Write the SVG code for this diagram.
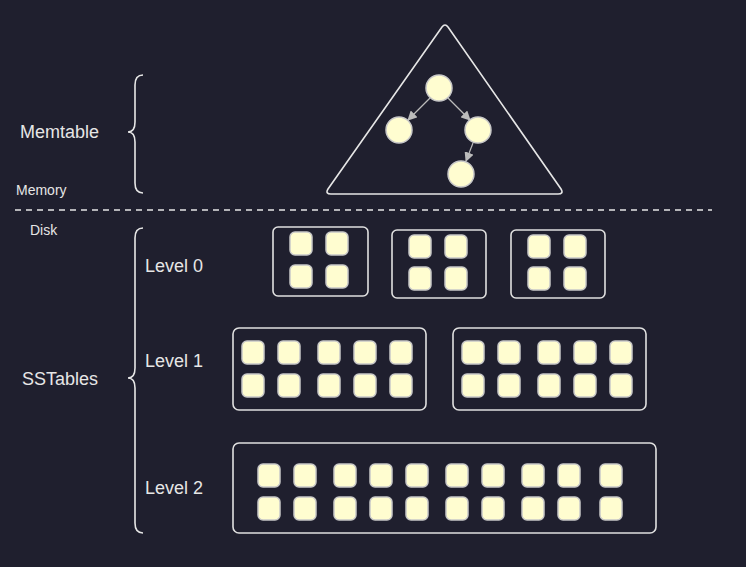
<svg xmlns="http://www.w3.org/2000/svg" width="746" height="567" viewBox="0 0 746 567">
<style>
.t{font-family:"Liberation Sans",Arial,sans-serif;fill:#e6e6e6}
.ln{fill:none;stroke:#e6e6e6;stroke-width:1.6}
.box{fill:none;stroke:#e0e0e0;stroke-width:1.6}
.sq{fill:#fffdd0;stroke:#c8c8c8;stroke-width:1.5}
.nd{fill:#fffdd0;stroke:#c8c8c8;stroke-width:1.5}
.ed{stroke:#bbbbbb;stroke-width:1.2;fill:none;marker-end:url(#ah)}
</style>
<defs>
<marker id="ah" viewBox="0 0 10 10" refX="9" refY="5" markerWidth="8" markerHeight="8" orient="auto"><path d="M0,0L10,5L0,10z" fill="#bbbbbb"/></marker>
<rect id="s" class="sq" width="22" height="23" rx="5"/>
</defs>
<rect width="746" height="567" fill="#1f1f2e"/>
<text class="t" x="20" y="138" font-size="18">Memtable</text>
<text class="t" x="16" y="195" font-size="14">Memory</text>
<text class="t" x="30" y="235" font-size="14">Disk</text>
<text class="t" x="22" y="385" font-size="18">SSTables</text>
<text class="t" x="145" y="272" font-size="18">Level 0</text>
<text class="t" x="145" y="367" font-size="18">Level 1</text>
<text class="t" x="145" y="494" font-size="18">Level 2</text>
<path class="ln" d="M143,75 Q135,75 135,85 L135,122 Q135,132 128,132 Q135,132 135,142 L135,183 Q135,193 143,193"/>
<path class="ln" d="M143,228 Q135,228 135,238 L135,368 Q135,378 128,378 Q135,378 135,388 L135,523 Q135,533 143,533"/>
<line x1="15" y1="210" x2="712" y2="210" stroke="#e6e6e6" stroke-width="1.6" stroke-dasharray="6,5"/>
<g id="memtable">
<path class="ln" d="M442,27 Q445,23 448,27 L561,189 Q564,194 558,194 L331,194 Q325,194 328,189 Z" stroke-width="2"/>
</g>
<g id="edges">
<line class="ed" x1="430" y1="98" x2="408" y2="120"/>
<line class="ed" x1="448" y1="98" x2="470" y2="120"/>
<line class="ed" x1="473" y1="143" x2="466" y2="161"/>
</g>
<g id="tree">
<circle class="nd" cx="439" cy="88" r="13"/>
<circle class="nd" cx="399" cy="130" r="13"/>
<circle class="nd" cx="478" cy="130" r="13"/>
<circle class="nd" cx="461" cy="174" r="13"/>
</g>
<g id="level0">
<rect class="box" x="273" y="227" width="95" height="69" rx="5"/>
<use href="#s" x="290" y="232"/><use href="#s" x="326" y="232"/><use href="#s" x="290" y="265"/><use href="#s" x="326" y="265"/>
<rect class="box" x="392" y="230" width="94" height="68" rx="5"/>
<use href="#s" x="409" y="235"/><use href="#s" x="445" y="235"/><use href="#s" x="409" y="267"/><use href="#s" x="445" y="267"/>
<rect class="box" x="511" y="230" width="94" height="68" rx="5"/>
<use href="#s" x="528" y="235"/><use href="#s" x="564" y="235"/><use href="#s" x="528" y="267"/><use href="#s" x="564" y="267"/>
</g>
<g id="level1">
<rect class="box" x="233" y="328" width="193" height="82" rx="6"/>
<use href="#s" x="242" y="341"/><use href="#s" x="278" y="341"/><use href="#s" x="318" y="341"/><use href="#s" x="354" y="341"/><use href="#s" x="390" y="341"/>
<use href="#s" x="242" y="374"/><use href="#s" x="278" y="374"/><use href="#s" x="318" y="374"/><use href="#s" x="354" y="374"/><use href="#s" x="390" y="374"/>
<rect class="box" x="453" y="328" width="193" height="82" rx="6"/>
<use href="#s" x="462" y="341"/><use href="#s" x="498" y="341"/><use href="#s" x="538" y="341"/><use href="#s" x="574" y="341"/><use href="#s" x="610" y="341"/>
<use href="#s" x="462" y="374"/><use href="#s" x="498" y="374"/><use href="#s" x="538" y="374"/><use href="#s" x="574" y="374"/><use href="#s" x="610" y="374"/>
</g>
<g id="level2">
<rect class="box" x="233" y="443" width="423" height="90" rx="6"/>
<use href="#s" x="258" y="464"/><use href="#s" x="294" y="464"/><use href="#s" x="334" y="464"/><use href="#s" x="370" y="464"/><use href="#s" x="406" y="464"/><use href="#s" x="446" y="464"/><use href="#s" x="482" y="464"/><use href="#s" x="522" y="464"/><use href="#s" x="558" y="464"/><use href="#s" x="600" y="464"/>
<use href="#s" x="258" y="497"/><use href="#s" x="294" y="497"/><use href="#s" x="334" y="497"/><use href="#s" x="370" y="497"/><use href="#s" x="406" y="497"/><use href="#s" x="446" y="497"/><use href="#s" x="482" y="497"/><use href="#s" x="522" y="497"/><use href="#s" x="558" y="497"/><use href="#s" x="600" y="497"/>
</g>
</svg>
